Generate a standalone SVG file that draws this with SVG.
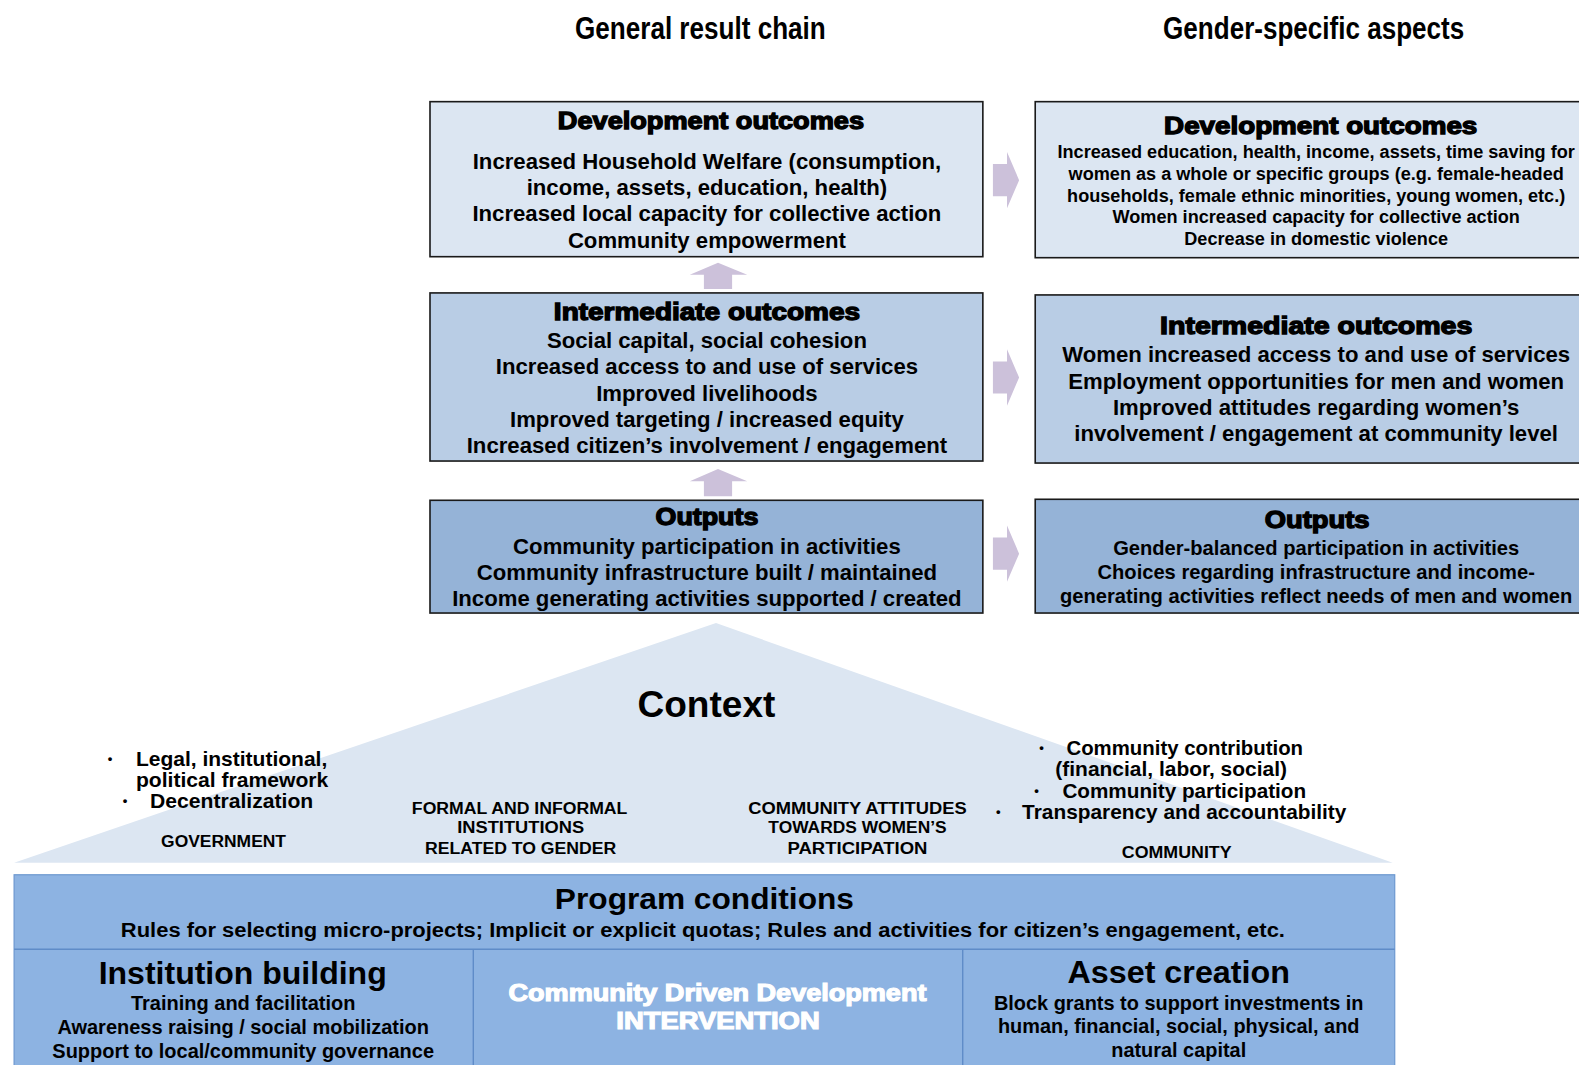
<svg xmlns="http://www.w3.org/2000/svg" width="1579" height="1065" viewBox="0 0 1579 1065">
<defs>
<style>
text{font-family:"Liberation Sans",Arial,sans-serif;font-weight:bold;fill:#000;text-anchor:middle}
.blk{stroke:#000;stroke-width:1.3}
.wblk{fill:#fff;stroke:#fff;stroke-width:1.2}
.b1{fill:#dce6f2;stroke:#1a1a1a;stroke-width:1.6}
.b2{fill:#b9cde5;stroke:#1a1a1a;stroke-width:1.6}
.b3{fill:#95b3d7;stroke:#1a1a1a;stroke-width:1.6}
.arr{fill:#ccc1da}
.ttl{font-size:23px}
.t22{font-size:22px}
.t20{font-size:20px}
.t18{font-size:18px}
.ctx{font-size:20px;text-anchor:start}
.cap{font-size:16.5px}
.bul{font-size:13px;text-anchor:start}
.pc{fill:#8db3e2;stroke:#6d98d0;stroke-width:1.2}
.pl{stroke:#5f8cc8;stroke-width:1.4;fill:none}
</style>
</defs>
<g transform="scale(1.00702,1.00662)">
<g id="headers">
<text x="695.5" y="39" style="font-size:31px" textLength="249" lengthAdjust="spacingAndGlyphs">General result chain</text>
<text x="1304.5" y="39" style="font-size:31px" textLength="299" lengthAdjust="spacingAndGlyphs">Gender-specific aspects</text>
</g>

<g id="context">
<polygon points="711,619 1383,857 14,857" fill="#dce6f2"/>
<text x="701.5" y="712" style="font-size:36px" textLength="137" lengthAdjust="spacingAndGlyphs">Context</text>
<text class="bul" x="107" y="758">•</text>
<text class="ctx" x="135" y="761" textLength="190" lengthAdjust="spacingAndGlyphs">Legal, institutional,</text>
<text class="ctx" x="135" y="782" textLength="191" lengthAdjust="spacingAndGlyphs">political framework</text>
<text class="bul" x="122" y="800">•</text>
<text class="ctx" x="149" y="803" textLength="162" lengthAdjust="spacingAndGlyphs">Decentralization</text>
<text class="cap" x="222" y="841" textLength="124" lengthAdjust="spacingAndGlyphs">GOVERNMENT</text>
<text class="cap" x="516" y="809" textLength="214" lengthAdjust="spacingAndGlyphs">FORMAL AND INFORMAL</text>
<text class="cap" x="517" y="828" textLength="126" lengthAdjust="spacingAndGlyphs">INSTITUTIONS</text>
<text class="cap" x="517" y="848" textLength="190" lengthAdjust="spacingAndGlyphs">RELATED TO GENDER</text>
<text class="cap" x="851.5" y="809" textLength="217" lengthAdjust="spacingAndGlyphs">COMMUNITY ATTITUDES</text>
<text class="cap" x="851.5" y="828" textLength="177" lengthAdjust="spacingAndGlyphs">TOWARDS WOMEN’S</text>
<text class="cap" x="851.5" y="848" textLength="139" lengthAdjust="spacingAndGlyphs">PARTICIPATION</text>
<text class="bul" x="1032" y="747">•</text>
<text class="ctx" x="1059" y="750" textLength="235" lengthAdjust="spacingAndGlyphs">Community contribution</text>
<text class="ctx" x="1048" y="771" textLength="230" lengthAdjust="spacingAndGlyphs">(financial, labor, social)</text>
<text class="bul" x="1027" y="790">•</text>
<text class="ctx" x="1055" y="793" textLength="242" lengthAdjust="spacingAndGlyphs">Community participation</text>
<text class="bul" x="989" y="811">•</text>
<text class="ctx" x="1015" y="814" textLength="322" lengthAdjust="spacingAndGlyphs">Transparency and accountability</text>
<text class="cap" x="1168.5" y="852" textLength="109" lengthAdjust="spacingAndGlyphs">COMMUNITY</text>
</g>

<g id="left-dev">
<rect class="b1" x="427" y="101" width="549" height="154"/>
<text class="ttl blk" x="706" y="128" textLength="304" lengthAdjust="spacingAndGlyphs">Development outcomes</text>
<text class="t22" x="702" y="168">Increased Household Welfare (consumption,</text>
<text class="t22" x="702" y="194">income, assets, education, health)</text>
<text class="t22" x="702" y="220">Increased local capacity for collective action</text>
<text class="t22" x="702" y="246">Community empowerment</text>
</g>

<g id="left-inter">
<rect class="b2" x="427" y="291" width="549" height="167"/>
<text class="ttl blk" x="702" y="318" textLength="304" lengthAdjust="spacingAndGlyphs">Intermediate outcomes</text>
<text class="t22" x="702" y="346">Social capital, social cohesion</text>
<text class="t22" x="702" y="372">Increased access to and use of services</text>
<text class="t22" x="702" y="398">Improved livelihoods</text>
<text class="t22" x="702" y="424">Improved targeting / increased equity</text>
<text class="t22" x="702" y="450">Increased citizen’s involvement / engagement</text>
</g>

<g id="left-outputs">
<rect class="b3" x="427" y="497" width="549" height="112"/>
<text class="ttl blk" x="702" y="522" textLength="102" lengthAdjust="spacingAndGlyphs">Outputs</text>
<text class="t22" x="702" y="550">Community participation in activities</text>
<text class="t22" x="702" y="576">Community infrastructure built / maintained</text>
<text class="t22" x="702" y="602">Income generating activities supported / created</text>
</g>

<g id="right-dev">
<rect class="b1" x="1028" y="101" width="600" height="155"/>
<text class="ttl blk" x="1311.5" y="133" textLength="311" lengthAdjust="spacingAndGlyphs">Development outcomes</text>
<text class="t18" x="1307" y="156.5">Increased education, health, income, assets, time saving for</text>
<text class="t18" x="1307" y="178.5">women as a whole or specific groups (e.g. female-headed</text>
<text class="t18" x="1307" y="200.5">households, female ethnic minorities, young women, etc.)</text>
<text class="t18" x="1307" y="221.5">Women increased capacity for collective action</text>
<text class="t18" x="1307" y="243.5">Decrease in domestic violence</text>
</g>

<g id="right-inter">
<rect class="b2" x="1028" y="293" width="600" height="167"/>
<text class="ttl blk" x="1307" y="332" textLength="310" lengthAdjust="spacingAndGlyphs">Intermediate outcomes</text>
<text class="t22" x="1307" y="360">Women increased access to and use of services</text>
<text class="t22" x="1307" y="386">Employment opportunities for men and women</text>
<text class="t22" x="1307" y="412">Improved attitudes regarding women’s</text>
<text class="t22" x="1307" y="438">involvement / engagement at community level</text>
</g>

<g id="right-outputs">
<rect class="b3" x="1028" y="496" width="600" height="113"/>
<text class="ttl blk" x="1308" y="525" textLength="104" lengthAdjust="spacingAndGlyphs">Outputs</text>
<text class="t20" x="1307" y="551">Gender-balanced participation in activities</text>
<text class="t20" x="1307" y="575">Choices regarding infrastructure and income-</text>
<text class="t20" x="1307" y="599">generating activities reflect needs of men and women</text>
</g>

<g id="connectors">
<polygon class="arr" points="713,261 742,273 727,273 727,287 699,287 699,273 685,273"/>
<polygon class="arr" points="713,466 742,478 727,478 727,493 699,493 699,478 685,478"/>
<polygon class="arr" points="986,163 1000,163 1000,151 1012,179 1000,207 1000,195 986,195"/>
<polygon class="arr" points="986,359 1000,359 1000,347 1012,375 1000,403 1000,391 986,391"/>
<polygon class="arr" points="986,534 1000,534 1000,522 1012,550 1000,578 1000,566 986,566"/>
</g>

<g id="program-conditions">
<rect class="pc" x="14" y="869" width="1371" height="220"/>
<line class="pl" x1="14" y1="943" x2="1385" y2="943"/>
<text x="699.5" y="903" style="font-size:29px" textLength="297" lengthAdjust="spacingAndGlyphs">Program conditions</text>
<text x="698" y="930.5" style="font-size:21px" textLength="1156" lengthAdjust="spacingAndGlyphs">Rules for selecting micro-projects; Implicit or explicit quotas; Rules and activities for citizen’s engagement, etc.</text>
</g>

<g id="institution-building">
<line class="pl" x1="470" y1="943" x2="470" y2="1070"/>
<text x="241" y="978" style="font-size:32px" textLength="286" lengthAdjust="spacingAndGlyphs">Institution building</text>
<text class="t20" x="241.5" y="1003" textLength="223" lengthAdjust="spacingAndGlyphs">Training and facilitation</text>
<text class="t20" x="241.5" y="1027" textLength="369" lengthAdjust="spacingAndGlyphs">Awareness raising / social mobilization</text>
<text class="t20" x="241.5" y="1051" textLength="379" lengthAdjust="spacingAndGlyphs">Support to local/community governance</text>
</g>

<g id="cdd-intervention">
<text class="wblk" x="712.5" y="994.5" style="font-size:24px" textLength="415" lengthAdjust="spacingAndGlyphs">Community Driven Development</text>
<text class="wblk" x="713" y="1022.5" style="font-size:24px" textLength="202" lengthAdjust="spacingAndGlyphs">INTERVENTION</text>
</g>

<g id="asset-creation">
<line class="pl" x1="956" y1="943" x2="956" y2="1070"/>
<text x="1170.5" y="977" style="font-size:32px" textLength="221" lengthAdjust="spacingAndGlyphs">Asset creation</text>
<text class="t20" x="1170.5" y="1003" textLength="367" lengthAdjust="spacingAndGlyphs">Block grants to support investments in</text>
<text class="t20" x="1170.5" y="1026" textLength="359" lengthAdjust="spacingAndGlyphs">human, financial, social, physical, and</text>
<text class="t20" x="1170.5" y="1050" textLength="134" lengthAdjust="spacingAndGlyphs">natural capital</text>
</g>
</g>
</svg>
